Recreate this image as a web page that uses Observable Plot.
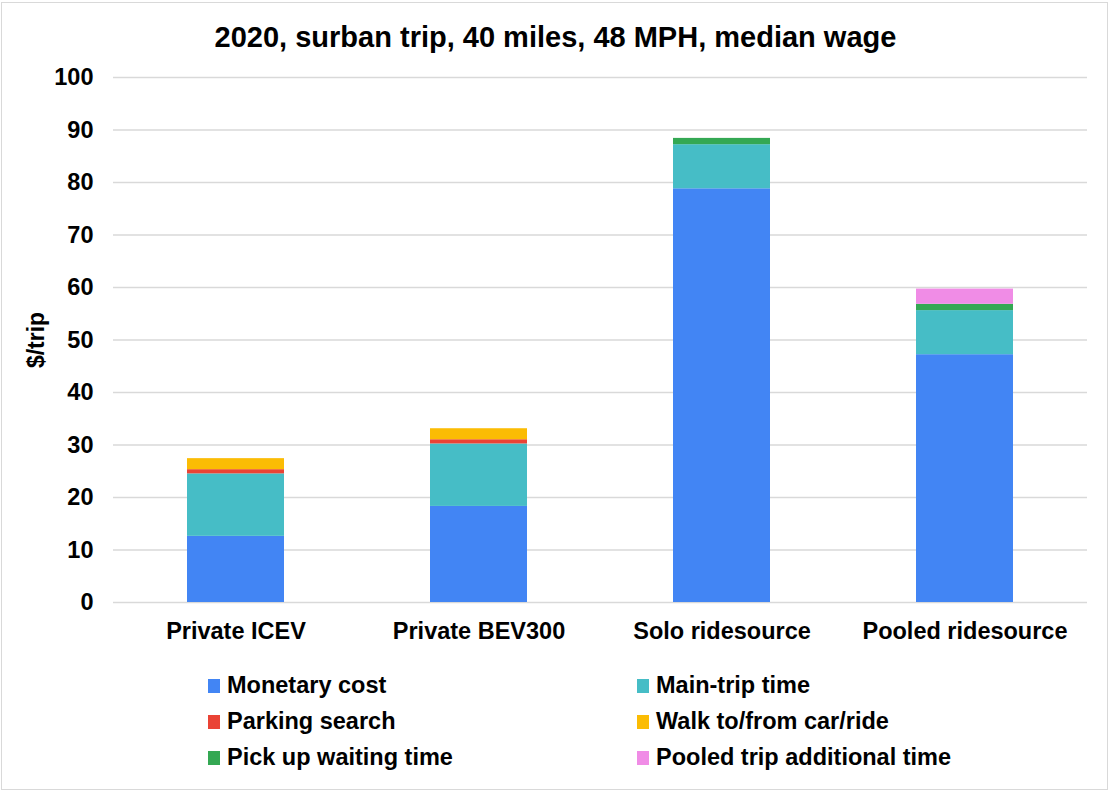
<!DOCTYPE html>
<html>
<head>
<meta charset="utf-8">
<script src="https://cdn.jsdelivr.net/npm/d3@7"></script>
<script src="https://cdn.jsdelivr.net/npm/@observablehq/plot@0.6"></script>
<style>
  html, body { margin: 0; padding: 0; background: #fff; }
  #wrap { position: relative; width: 1111px; height: 792px; overflow: hidden; background: #fff;
          font-family: "Liberation Sans", Arial, sans-serif; font-weight: bold; color: #000; }
  #frame { position: absolute; left: 1px; top: 2px; width: 1105px; height: 786px; border: 1.5px solid #d9d9d9; z-index: 3; pointer-events: none; }
  #title { position: absolute; left: 0; width: 1111px; top: 21px; text-align: center; font-size: 29px; z-index: 2; }
  #ylabel { position: absolute; left: 36px; top: 340px; transform: translate(-50%, -50%) rotate(-90deg); font-size: 23px; z-index: 2; white-space: nowrap; }
  #chart { position: absolute; left: 0; top: 0; }
  .leg { position: absolute; font-size: 23.5px; white-space: nowrap; z-index: 2; line-height: 1; }
  .sw { position: absolute; width: 12px; height: 14px; }
</style>
</head>
<body>
<div id="wrap">
  <div id="frame"></div>
  <div id="chart"></div>
  <div id="title"></div>
  <div id="ylabel"></div>
  <div id="legend"></div>
</div>
<script>
const titleText = "2020, surban trip, 40 miles, 48 MPH, median wage";
const yLabel = "$/trip";
const categories = ["Private ICEV", "Private BEV300", "Solo ridesource", "Pooled ridesource"];
const components = ["Monetary cost", "Main-trip time", "Parking search", "Walk to/from car/ride", "Pick up waiting time", "Pooled trip additional time"];
const colors = ["#4285F4", "#46BDC6", "#EA4335", "#FBBC04", "#34A853", "#F08CE6"];
const monetary = [12.6, 18.3, 78.8, 47.2];
const mainTrip = [11.9, 11.9, 8.4, 8.4];
const parking = [0.8, 0.8, 0, 0];
const walk = [2.1, 2.1, 0, 0];
const pickup = [0, 0, 1.2, 1.2];
const pooled = [0, 0, 0, 2.9];
const yTicks = [0, 10, 20, 30, 40, 50, 60, 70, 80, 90, 100];

const series = [monetary, mainTrip, parking, walk, pickup, pooled];
const data = [];
components.forEach((comp, i) => {
  categories.forEach((cat, j) => {
    data.push({cat, comp, value: series[i][j]});
  });
});

document.getElementById("title").textContent = titleText;
document.getElementById("ylabel").textContent = yLabel;

const plot = Plot.plot({
  width: 1111,
  height: 660,
  marginLeft: 113,
  marginRight: 24,
  marginTop: 77,
  marginBottom: 58,
  style: {fontFamily: "'Liberation Sans', Arial, sans-serif", fontWeight: "bold", fontSize: "23.5px", color: "#000", background: "transparent"},
  x: {domain: categories, paddingInner: 0.6, paddingOuter: 0.3, label: null},
  y: {domain: [0, 100], label: null},
  color: {domain: components, range: colors},
  marks: [
    Plot.ruleY(yTicks, {stroke: "#d9d9d9", strokeWidth: 1.5}),
    Plot.barY(data, {x: "cat", y: "value", fill: "comp"}),
    Plot.axisY({ticks: yTicks, tickSize: 0, tickPadding: 20, label: null}),
    Plot.axisX({tickSize: 0, tickPadding: 20, label: null})
  ]
});
document.getElementById("chart").appendChild(plot);

const legend = document.getElementById("legend");
const colX = [208, 637];
const rowY = [686, 722, 758];
components.forEach((comp, i) => {
  const c = i % 2, r = Math.floor(i / 2);
  const sw = document.createElement("div");
  sw.className = "sw";
  sw.style.left = colX[c] + "px";
  sw.style.top = (rowY[r] - 7) + "px";
  sw.style.background = colors[i];
  sw.style.zIndex = 2;
  legend.appendChild(sw);
  const t = document.createElement("div");
  t.className = "leg";
  t.style.left = (colX[c] + 19) + "px";
  t.style.top = (rowY[r] - 12) + "px";
  t.textContent = comp;
  legend.appendChild(t);
});
</script>
</body>
</html>
